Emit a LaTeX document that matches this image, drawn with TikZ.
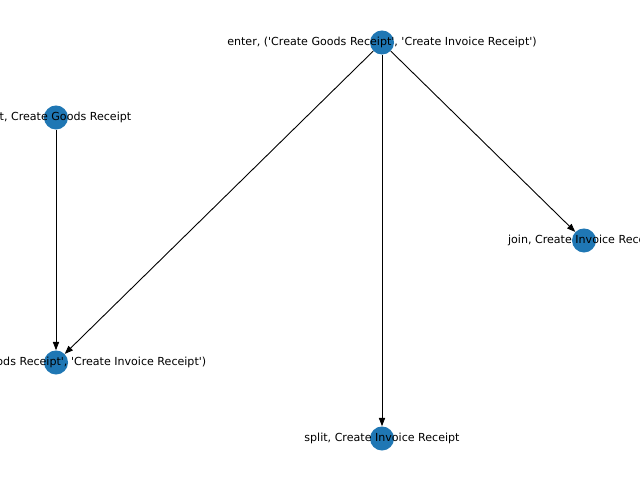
\documentclass[tikz,border=0pt]{standalone}
\usepackage{fontspec}
\setmainfont{DejaVu Sans}[Ligatures=TeXOff]
\usepackage{xcolor}
\usetikzlibrary{
    arrows.meta,
    positioning
}
\definecolor{nodeblue}{RGB}{31,119,180}

\begin{document}
\begin{tikzpicture}[x=0.01in, y=-0.01in,
        vertex/.style={circle, fill=nodeblue, minimum size=0.24in, inner sep=0pt},
        lbl/.style={font=\fontsize{8}{9.6}\selectfont, inner sep=0pt, text=black},
        flow/.style={-{Triangle[length=6pt, width=4.5pt]}, line width=0.65pt}]
    \useasboundingbox (0, 0) rectangle (640, 480);
    \clip (0, 0) rectangle (640, 480);
    % circles
    \node[vertex] (enter) at (382, 42.5) {};
    \node[vertex] (splitgr) at (56, 117.5) {};
    \node[vertex] (exit) at (56, 362.5) {};
    \node[vertex] (joinir) at (584, 240.5) {};
    \node[vertex] (splitir) at (382, 438.5) {};
    % edges
    \draw[flow] (splitgr) -- (exit);
    \draw[flow] (enter) -- (exit);
    \draw[flow] (enter) -- (splitir);
    \draw[flow] (enter) -- (joinir);
    % labels
    \node[lbl] (enterlbl) at (enter) {enter, ('Create Goods Receipt', 'Create Invoice Receipt')};
    \node[lbl] (splitgrlbl) at (splitgr) {split, Create Goods Receipt};
    \node[lbl] (exitlbl) at (exit) {exit, ('Create Goods Receipt', 'Create Invoice Receipt')};
    \node[lbl] (joinirlbl) at (joinir) {join, Create Invoice Receipt};
    \node[lbl] (splitirlbl) at (splitir) {split, Create Invoice Receipt};
\end{tikzpicture}
\end{document}
